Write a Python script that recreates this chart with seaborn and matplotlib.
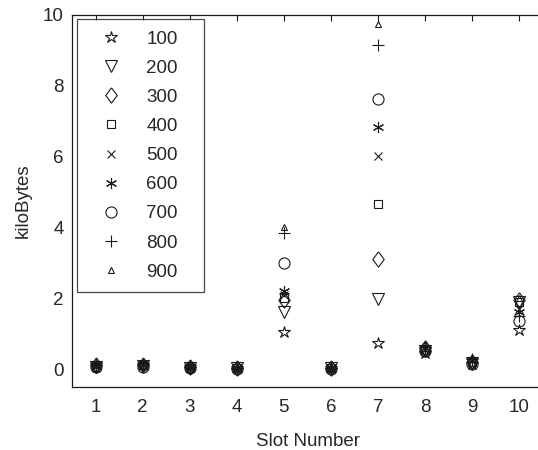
import matplotlib
matplotlib.use("Agg")
import matplotlib.pyplot as plt
import seaborn as sns
import pandas as pd

slots = [1, 2, 3, 4, 5, 6, 7, 8, 9, 10]
series_labels = ["100", "200", "300", "400", "500", "600", "700", "800", "900"]

v100 = [0.12, 0.12, 0.05, 0.02, 1.05, 0.02, 0.72, 0.45, 0.15, 1.10]
v200 = [0.05, 0.08, 0.03, 0.02, 1.60, 0.02, 1.97, 0.50, 0.18, 1.90]
v300 = [0.10, 0.10, 0.05, 0.03, 1.95, 0.03, 3.10, 0.60, 0.20, 1.95]
v400 = [0.07, 0.10, 0.04, 0.02, 2.00, 0.02, 4.65, 0.55, 0.20, 1.90]
v500 = [0.08, 0.10, 0.05, 0.03, 2.10, 0.03, 6.00, 0.55, 0.22, 1.70]
v600 = [0.10, 0.12, 0.06, 0.03, 2.20, 0.03, 6.82, 0.60, 0.25, 1.60]
v700 = [0.05, 0.05, 0.02, 0.00, 3.00, 0.00, 7.63, 0.50, 0.15, 1.35]
v800 = [0.12, 0.15, 0.07, 0.04, 3.85, 0.04, 9.13, 0.62, 0.28, 1.50]
v900 = [0.15, 0.18, 0.08, 0.05, 4.00, 0.05, 9.72, 0.70, 0.30, 2.00]

series_values = [v100, v200, v300, v400, v500, v600, v700, v800, v900]
diamond = [(0, 1), (0.75, 0), (0, -1), (-0.75, 0), (0, 1)]
markers = ["*", "v", diamond, "s", "x", (6, 2, 0), "o", "+", "^"]
msizes = [9, 9, 11, 6, 6, 8, 8, 9, 5]

sns.set_theme(style="white")
plt.rcParams["font.family"] = ["Liberation Sans", "DejaVu Sans"]

W, H = 538, 450
fig = plt.figure(figsize=(W / 100, H / 100), dpi=100)
ax = fig.add_axes([72 / W, (H - 386.75) / H, 471 / W, (386.75 - 14.5) / H])

for lab, vals, m, ms in zip(series_labels, series_values, markers, msizes):
    df = pd.DataFrame({"slot": slots, "kB": vals})
    sns.lineplot(data=df, x="slot", y="kB", ax=ax, estimator=None,
                 linestyle="", marker=m, markersize=ms, color="k",
                 markerfacecolor="none", markeredgecolor="k",
                 markeredgewidth=0.8, label=lab)

ax.set_xlim(0.5, 10.5)
ax.set_ylim(-0.5, 10)
ax.set_xticks(slots)
ax.set_yticks([0, 2, 4, 6, 8, 10])
ax.set_xlabel("Slot Number", fontsize=13.5, color="#262626", labelpad=12)
ax.set_ylabel("kiloBytes", fontsize=13.5, color="#262626", labelpad=8)
ax.tick_params(direction="in", length=4, width=0.8, top=True, right=False,
               labelsize=13.5, colors="k", labelcolor="#262626")
ax.tick_params(axis="x", pad=9)
ax.tick_params(axis="y", pad=6)
for s in ax.spines.values():
    s.set_color("k")
    s.set_linewidth(0.9)

leg = ax.legend(loc="upper left",
                bbox_to_anchor=(76.7 / W, 1 - 287 / H, 127.3 / W, (287 - 19.3) / H),
                bbox_transform=fig.transFigure, mode="expand", borderaxespad=0,
                fontsize=13.5, frameon=True, fancybox=False, edgecolor="k",
                handlelength=2.5, borderpad=0.6, handletextpad=0.62,
                labelspacing=0.64)
leg.get_frame().set_linewidth(0.9)

fig.savefig("out.png", dpi=100)
